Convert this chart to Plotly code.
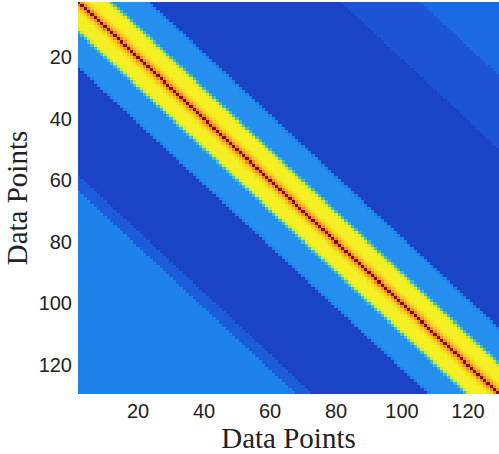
import numpy as np
import plotly.graph_objects as go

n_points = 130
x_ticks = [20, 40, 60, 80, 100, 120]
y_ticks = [20, 40, 60, 80, 100, 120]

# Similarity profile, as a step table over |row - col|
lower_offsets = [0, 1, 2, 3, 4, 9, 10, 11, 21, 22, 57, 62]
lower_values = [1.0, 0.86, 0.76, 0.70, 0.66, 0.61, 0.50, 0.35, 0.30, 0.04, 0.16, 0.30]
upper_offsets = [0, 1, 2, 3, 4, 9, 10, 11, 21, 22, 80, 104]
upper_values = [1.0, 0.86, 0.76, 0.70, 0.66, 0.61, 0.50, 0.35, 0.30, 0.04, 0.12, 0.22]

idx = np.arange(1, n_points + 1)
d = idx[:, None] - idx[None, :]
lo = np.array(lower_values)[np.searchsorted(lower_offsets, np.abs(d), side="right") - 1]
up = np.array(upper_values)[np.searchsorted(upper_offsets, np.abs(d), side="right") - 1]
z = np.where(d >= 0, lo, up)

colorscale = [
    [0.0, "rgb(25,58,190)"],
    [0.1, "rgb(27,80,210)"],
    [0.2, "rgb(28,100,225)"],
    [0.3, "rgb(30,130,235)"],
    [0.38, "rgb(40,150,240)"],
    [0.5, "rgb(70,190,190)"],
    [0.6, "rgb(200,230,50)"],
    [0.66, "rgb(245,240,35)"],
    [0.76, "rgb(250,200,30)"],
    [0.86, "rgb(245,140,30)"],
    [0.94, "rgb(200,50,20)"],
    [1.0, "rgb(120,15,10)"],
]

fig = go.Figure(go.Heatmap(
    z=z, x=idx, y=idx, colorscale=colorscale, zmin=0, zmax=1,
    showscale=False, hoverinfo="skip",
))

tickfont = dict(family="Liberation Sans, Arial, sans-serif", size=20, color="#222")
titlefont = dict(family="Liberation Serif, Times New Roman, serif", size=29, color="#222")

fig.update_layout(
    width=499, height=454,
    margin=dict(l=78, r=0, t=2, b=60),
    paper_bgcolor="white", plot_bgcolor="white",
    xaxis=dict(
        range=[1.8, 129.4], tickvals=x_ticks, ticks="", showgrid=False, zeroline=False,
        tickfont=tickfont, ticklabelstandoff=3,
        title=dict(text="Data Points", font=titlefont, standoff=0),
    ),
    yaxis=dict(
        range=[129.5, 2.0], tickvals=y_ticks, ticks="", showgrid=False, zeroline=False,
        tickfont=tickfont, ticklabelstandoff=5,
        title=dict(text="Data Points", font=titlefont, standoff=2),
    ),
)

fig.write_html("out.html")
